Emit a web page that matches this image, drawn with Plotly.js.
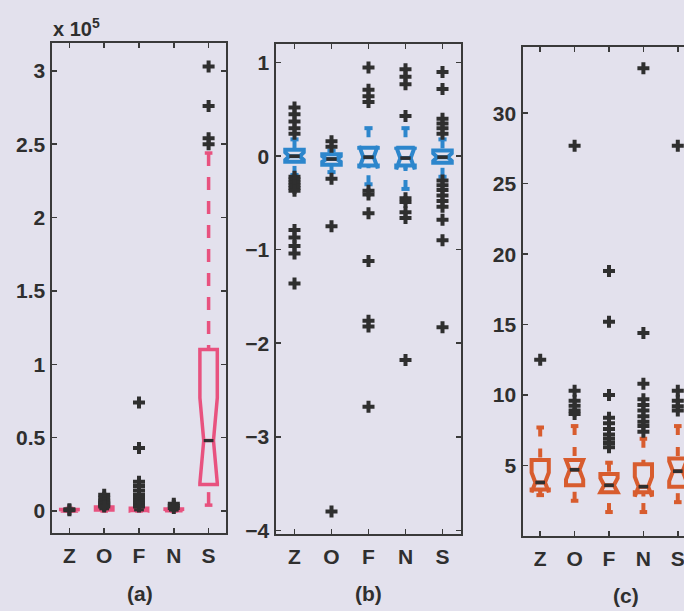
<!DOCTYPE html>
<html>
<head>
<meta charset="utf-8">
<script src="https://cdn.plot.ly/plotly-3.0.1.min.js"></script>
<style>
  html, body { margin: 0; padding: 0; overflow: hidden; background: #e3e1ed; }
  #chart { width: 700px; height: 611px; }
</style>
</head>
<body>
<div id="chart"></div>
<script>
// Categories shared by the three panels
const categories = ['Z', 'O', 'F', 'N', 'S'];

// Panel (a): values in units of 1e5
const aQ1      = [0.000, 0.006, 0.003, 0.002, 0.18];
const aMedian  = [0.004, 0.015, 0.008, 0.006, 0.48];
const aQ3      = [0.010, 0.028, 0.018, 0.014, 1.10];
const aLowW    = [0.000, 0.000, 0.000, 0.000, 0.04];
const aUpW     = [0.018, 0.050, 0.035, 0.025, 2.44];
const aNotch   = [0.004, 0.008, 0.006, 0.004, 0.29];
const aOutliers = [
  [0.005, 0.012],
  [0.11, 0.09, 0.07, 0.06, 0.05, 0.04, 0.03],
  [0.74, 0.43, 0.20, 0.17, 0.14, 0.11, 0.09, 0.07, 0.05, 0.04, 0.03],
  [0.05, 0.035, 0.02],
  [3.03, 2.76, 2.54, 2.50]
];

// Panel (b)
const bQ1      = [-0.06, -0.09, -0.10, -0.10, -0.07];
const bMedian  = [ 0.00, -0.03, -0.01, -0.02, -0.01];
const bQ3      = [ 0.07,  0.02,  0.09,  0.09,  0.06];
const bLowW    = [-0.20, -0.17, -0.30, -0.35, -0.22];
const bUpW     = [ 0.18,  0.06,  0.30,  0.30,  0.18];
const bNotch   = [ 0.04,  0.03,  0.12,  0.12,  0.04];
const bOutliers = [
  [0.52, 0.45, 0.37, 0.30, 0.24, -0.22, -0.25, -0.28, -0.31, -0.34, -0.37, -0.79, -0.87, -0.96, -1.04, -1.36],
  [0.16, 0.10, -0.24, -0.75, -3.80],
  [0.95, 0.71, 0.64, 0.58, -0.37, -0.41, -0.61, -1.12, -1.76, -1.82, -2.68],
  [0.93, 0.85, 0.77, 0.43, -0.45, -0.49, -0.60, -0.66, -2.18],
  [0.90, 0.72, 0.40, 0.35, 0.30, 0.24, -0.26, -0.31, -0.36, -0.42, -0.48, -0.54, -0.68, -0.90, -1.83]
];

// Panel (c)
const cQ1      = [3.3, 3.6, 3.1, 3.1, 3.5];
const cMedian  = [3.8, 4.7, 3.6, 3.5, 4.6];
const cQ3      = [5.4, 5.4, 4.4, 5.1, 5.5];
const cLowW    = [2.9, 2.5, 1.7, 1.7, 2.4];
const cUpW     = [7.7, 7.8, 5.2, 6.9, 7.8];
const cNotch   = [0.7, 0.7, 0.5, 0.7, 0.7];
const cOutliers = [
  [12.5],
  [27.7, 10.3, 9.6, 9.25, 8.9, 8.65],
  [18.8, 15.2, 10.0, 8.4, 8.0, 7.6, 7.2, 6.9, 6.6, 6.3],
  [33.2, 14.4, 10.8, 9.7, 9.3, 8.9, 8.5, 8.1, 7.8, 7.4],
  [27.7, 10.3, 9.6, 9.2, 8.9]
];

const W = 700, H = 611;
const BG = '#e3e1ed';
const INK = '#2f2f2f';
const FONT = 'Liberation Sans, Arial, sans-serif';
const pos = categories.map((_, i) => i + 1);

const BOX_W = 0.5;        // box width in category units
const NOTCH_W = 0.22;     // notch depth on each side, relative to the box width
const CAP_HALF = 0.11;    // whisker cap half-width

function panelTraces(ax, color, lw, q1, med, q3, lowW, upW, notch, outliers, dash) {
  const xa = 'x' + ax, ya = 'y' + ax;
  const traces = [];

  // Dashed whiskers, drawn from each whisker end toward the box
  const wx = [], wy = [];
  pos.forEach((p, i) => {
    wx.push(p, p, null, p, p, null);
    wy.push(upW[i], q3[i], null, lowW[i], q1[i], null);
  });
  traces.push({
    type: 'scatter', mode: 'lines', x: wx, y: wy, xaxis: xa, yaxis: ya,
    line: { color: color, width: lw, dash: dash }, hoverinfo: 'skip'
  });

  // Whisker caps
  const cx = [], cy = [];
  pos.forEach((p, i) => {
    cx.push(p - CAP_HALF, p + CAP_HALF, null, p - CAP_HALF, p + CAP_HALF, null);
    cy.push(upW[i], upW[i], null, lowW[i], lowW[i], null);
  });
  traces.push({
    type: 'scatter', mode: 'lines', x: cx, y: cy, xaxis: xa, yaxis: ya,
    line: { color: color, width: lw }, hoverinfo: 'skip'
  });

  // Notched boxes (whiskers handled above)
  traces.push({
    type: 'box', x: pos, q1: q1, median: med, q3: q3,
    lowerfence: q1, upperfence: q3,
    notched: true, notchspan: notch, notchwidth: NOTCH_W,
    width: BOX_W, boxpoints: false,
    line: { color: color, width: lw }, fillcolor: 'rgba(0,0,0,0)',
    whiskerwidth: 0, xaxis: xa, yaxis: ya, hoverinfo: 'skip'
  });

  // Dark median bars across the notch waist
  const mh = BOX_W / 2 * (1 - 2 * NOTCH_W);
  const mx = [], my = [];
  pos.forEach((p, i) => {
    mx.push(p - mh, p + mh, null);
    my.push(med[i], med[i], null);
  });
  traces.push({
    type: 'scatter', mode: 'lines', x: mx, y: my, xaxis: xa, yaxis: ya,
    line: { color: INK, width: lw * 0.9 }, hoverinfo: 'skip'
  });

  // Outliers
  const ox = [], oy = [];
  outliers.forEach((vals, i) => vals.forEach(v => { ox.push(pos[i]); oy.push(v); }));
  traces.push({
    type: 'scatter', mode: 'markers', x: ox, y: oy, xaxis: xa, yaxis: ya,
    marker: { symbol: 'cross', size: 10, color: INK, line: { width: 0 } },
    hoverinfo: 'skip'
  });
  return traces;
}

const data = [].concat(
  panelTraces('', '#e8527f', 3.5, aQ1, aMedian, aQ3, aLowW, aUpW, aNotch, aOutliers, '13px,11px'),
  panelTraces('2', '#2d86cc', 4, bQ1, bMedian, bQ3, bLowW, bUpW, bNotch, bOutliers, '9px,9px'),
  panelTraces('3', '#d85c2e', 4, cQ1, cMedian, cQ3, cLowW, cUpW, cNotch, cOutliers, '9px,12px')
);

const tickFont = { family: FONT, size: 21, color: INK, weight: 'bold' };

function xAxis(left, right, anchor) {
  return {
    domain: [left / W, right / W], anchor: anchor,
    range: [0.5, 5.5], tickvals: pos, ticktext: categories,
    ticks: 'inside', ticklen: 5, tickwidth: 1.5, tickcolor: '#3a3a3a',
    showline: true, linecolor: '#3a3a3a', linewidth: 1.6, mirror: 'ticks',
    showgrid: false, zeroline: false, tickfont: tickFont, ticklabelstandoff: 3,
    fixedrange: true
  };
}
function yAxis(top, bottom, anchor, range, ticks) {
  return {
    domain: [1 - bottom / H, 1 - top / H], anchor: anchor,
    range: range, tickvals: ticks,
    ticks: 'inside', ticklen: 5, tickwidth: 1.5, tickcolor: '#3a3a3a',
    showline: true, linecolor: '#3a3a3a', linewidth: 1.6, mirror: 'ticks',
    showgrid: false, zeroline: false, tickfont: tickFont, ticklabelstandoff: 1,
    fixedrange: true
  };
}

const layout = {
  width: W, height: H,
  margin: { l: 0, r: 0, t: 0, b: 0 },
  paper_bgcolor: BG, plot_bgcolor: BG,
  showlegend: false,
  xaxis:  xAxis(52, 226, 'y'),
  yaxis:  yAxis(43, 533, 'x', [-0.15, 3.19], [0, 0.5, 1, 1.5, 2, 2.5, 3]),
  xaxis2: xAxis(276, 461, 'y2'),
  yaxis2: yAxis(44, 534, 'x2', [-4.04, 1.2], [-4, -3, -2, -1, 0, 1]),
  xaxis3: xAxis(523, 695, 'y3'),
  yaxis3: yAxis(47, 536, 'x3', [0, 34.7], [5, 10, 15, 20, 25, 30]),
  annotations: [
    { text: 'x 10<sup>5</sup>', xref: 'paper', yref: 'paper', x: 51 / W, y: 1 - 27 / H,
      xanchor: 'left', yanchor: 'middle', showarrow: false,
      font: { family: FONT, size: 20, color: INK, weight: 'bold' } },
    { text: '(a)', xref: 'paper', yref: 'paper', x: 140 / W, y: 1 - 593 / H,
      xanchor: 'center', yanchor: 'middle', showarrow: false,
      font: { family: FONT, size: 21, color: INK, weight: 'bold' } },
    { text: '(b)', xref: 'paper', yref: 'paper', x: 368 / W, y: 1 - 593 / H,
      xanchor: 'center', yanchor: 'middle', showarrow: false,
      font: { family: FONT, size: 21, color: INK, weight: 'bold' } },
    { text: '(c)', xref: 'paper', yref: 'paper', x: 626 / W, y: 1 - 595 / H,
      xanchor: 'center', yanchor: 'middle', showarrow: false,
      font: { family: FONT, size: 21, color: INK, weight: 'bold' } }
  ]
};

Plotly.newPlot('chart', data, layout, { staticPlot: true, displayModeBar: false });
</script>
</body>
</html>
